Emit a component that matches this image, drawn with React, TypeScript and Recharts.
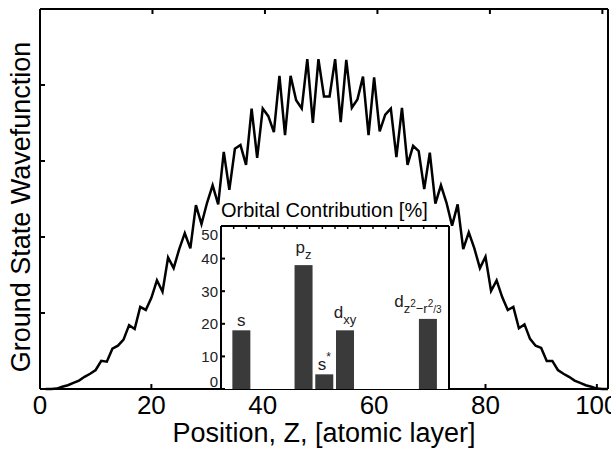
import React from "react";
import {
  LineChart,
  Line,
  XAxis,
  YAxis,
  BarChart,
  Bar,
  CartesianGrid,
  Label,
} from "recharts";

// ground state wavefunction, one value per atomic layer (layer 1..102)
const waveValues = [
  0, 0, 0.005, 0.03, 0.05, 0.08, 0.11, 0.16, 0.2, 0.25,
  0.37, 0.36, 0.53, 0.57, 0.65, 0.84, 0.79, 1.08, 1.04, 1.2,
  1.43, 1.28, 1.73, 1.59, 1.84, 2.05, 1.85, 2.42, 2.17, 2.45,
  2.68, 2.43, 3.12, 2.62, 3.16, 3.21, 2.95, 3.69, 3.04, 3.69,
  3.59, 3.38, 4.12, 3.34, 4.12, 3.8, 3.69, 4.34, 3.5, 4.34,
  3.85, 3.85, 4.34, 3.51, 4.33, 3.7, 3.81, 4.11, 3.34, 4.1,
  3.39, 3.61, 3.69, 3.05, 3.7, 2.95, 3.2, 3.13, 2.63, 3.11,
  2.44, 2.68, 2.45, 2.15, 2.43, 1.84, 2.06, 1.85, 1.59, 1.74,
  1.29, 1.43, 1.21, 1.04, 1.08, 0.8, 0.85, 0.66, 0.57, 0.54,
  0.37, 0.37, 0.25, 0.2, 0.16, 0.11, 0.08, 0.05, 0.03, 0.005,
  0, 0,
];

const xTicks = [0, 20, 40, 60, 80, 100];
const yTicks = [0, 1, 2, 3, 4, 5];

// inset: orbital contributions in percent
const orbitals = ["s", "px", "py", "pz", "s*", "dxy", "dyz", "dzx", "dx2-y2", "dz2-r2/3"];
const contribution = [18, 0, 0, 38, 4.5, 18, 0, 0, 0, 21.5];
// label pieces: [text, level]
const orbitalLabels: [string, string][][] = [
  [["s", "b"]],
  [["p", "b"], ["x", "sub"]],
  [["p", "b"], ["y", "sub"]],
  [["p", "b"], ["z", "sub"]],
  [["s", "b"], ["*", "sup"]],
  [["d", "b"], ["xy", "sub"]],
  [["d", "b"], ["yz", "sub"]],
  [["d", "b"], ["zx", "sub"]],
  [["d", "b"], ["x", "sub"], ["2", "subsup"], ["\u2212y", "sub"], ["2", "subsup"]],
  [["d", "b"], ["z", "sub"], ["2", "subsup"], ["\u2212r", "sub"], ["2", "subsup"], ["/3", "subsub"]],
];
const insetYTicks = [0, 10, 20, 30, 40, 50];
const insetXTicks = [
  0, 0.5, 1, 1.5, 2, 2.5, 3, 3.5, 4, 4.5, 5, 5.5, 6, 6.5, 7, 7.5, 8, 8.5, 9, 9.5, 10, 10.5, 11,
];

const FONT = "'Liberation Sans', Arial, Helvetica, sans-serif";

const waveData = waveValues.map((v, i) => ({ z: i + 1, v }));
const barData = orbitals.map((name, i) => ({
  name,
  pos: i + 1,
  value: contribution[i],
  parts: orbitalLabels[i],
}));

const levels: Record<string, { dy: number; size: number }> = {
  b: { dy: 0, size: 17 },
  sub: { dy: 6, size: 13 },
  sup: { dy: -9, size: 12 },
  subsup: { dy: 0, size: 10 },
  subsub: { dy: 6, size: 10 },
};

function OrbitalBar(props: any) {
  const { x, y, width, height, fill, payload } = props;
  if (!payload || payload.value <= 0) return <g />;
  const hasSub = payload.parts.some((p: [string, string]) => p[1] !== "b" && p[1] !== "sup");
  const baseY = y - (hasSub ? 12 : 4);
  const shift = payload.parts.length > 3 ? -10 : 0;
  let prev = 0;
  return (
    <g>
      <rect x={x} y={y} width={width} height={height} fill={fill} />
      <text x={x + width / 2 + shift} y={baseY} textAnchor="middle" fill="#222" fontFamily={FONT}>
        {payload.parts.map((p: [string, string], i: number) => {
          const lv = levels[p[1]];
          const d = lv.dy - prev;
          prev = lv.dy;
          return (
            <tspan key={i} dy={d} fontSize={lv.size}>
              {p[0]}
            </tspan>
          );
        })}
      </text>
    </g>
  );
}

// inward tick marks, MATLAB style. With tickSize=0 and tickMargin=0, x/y is the axis point itself.
function BottomTick(props: any) {
  const { x, y, payload, len = 5, showLabel = false, size = 26 } = props;
  return (
    <g>
      <line x1={x} y1={y} x2={x} y2={y - len} stroke="#000" strokeWidth={2} />
      {showLabel && (
        <text x={x} y={y + 25} textAnchor="middle" fontSize={size} fill="#000" fontFamily={FONT}>
          {payload.value}
        </text>
      )}
    </g>
  );
}

function TopTick(props: any) {
  const { x, y, len = 5, sw = 2 } = props;
  return <line x1={x} y1={y} x2={x} y2={y + len} stroke="#000" strokeWidth={sw} />;
}

function LeftTick(props: any) {
  const { x, y, len = 5 } = props;
  return <line x1={x} y1={y} x2={x + len} y2={y} stroke="#000" strokeWidth={2} />;
}

function RightTick(props: any) {
  const { x, y, len = 5 } = props;
  return <line x1={x} y1={y} x2={x - len} y2={y} stroke="#000" strokeWidth={2} />;
}

function InsetBottomTick(props: any) {
  const { x, y } = props;
  return <line x1={x} y1={y} x2={x} y2={y - 3} stroke="#000" strokeWidth={1.5} />;
}

function InsetLeftTick(props: any) {
  const { x, y, payload } = props;
  // end labels sit inside the box like in the original
  const first = insetYTicks[0];
  const last = insetYTicks[insetYTicks.length - 1];
  const nudge = payload.value === first ? -8 : payload.value === last ? 8 : 0;
  return (
    <g>
      <line x1={x} y1={y} x2={x + 4} y2={y} stroke="#000" strokeWidth={2} />
      <text x={x - 3} y={y + nudge} textAnchor="end" dominantBaseline="central" fontSize={15} fill="#222" fontFamily={FONT}>
        {payload.value}
      </text>
    </g>
  );
}

const axisLine = { stroke: "#000", strokeWidth: 2 };

export default function App() {
  return (
    <div
      style={{
        position: "absolute",
        left: 0,
        top: 0,
        width: 611,
        height: 450,
        background: "#fff",
        fontFamily: FONT,
        overflow: "hidden",
      }}
    >
      <div style={{ position: "absolute", left: 0, top: 0 }}>
        <LineChart width={611} height={450} data={waveData} margin={{ top: 8, right: 2, bottom: 0, left: 0 }}>
          <XAxis
            xAxisId="b"
            dataKey="z"
            type="number"
            domain={[0, 102]}
            ticks={xTicks}
            interval={0}
            allowDataOverflow
            height={61}
            axisLine={axisLine}
            tickLine={false}
            tickSize={0}
            tickMargin={0}
            tick={<BottomTick showLabel />}
          >
            <Label
              content={(p: any) => {
                const vb = p.viewBox || { x: 40, y: 389, width: 568 };
                return (
                  <text x={vb.x + vb.width / 2} y={vb.y + 53} textAnchor="middle" fontSize={27} fill="#000" fontFamily={FONT}>
                    Position, Z, [atomic layer]
                  </text>
                );
              }}
            />
          </XAxis>
          <XAxis
            xAxisId="t"
            orientation="top"
            type="number"
            domain={[0, 102]}
            ticks={xTicks}
            interval={0}
            allowDataOverflow
            height={1}
            axisLine={axisLine}
            tickLine={false}
            tickSize={0}
            tickMargin={0}
            tick={<TopTick />}
          />
          <YAxis
            yAxisId="l"
            type="number"
            domain={[0, 5]}
            ticks={yTicks}
            interval={0}
            width={40}
            axisLine={axisLine}
            tickLine={false}
            tickSize={0}
            tickMargin={0}
            tick={<LeftTick />}
          >
            <Label
              content={(p: any) => {
                const vb = p.viewBox || { x: 0, y: 9, width: 40, height: 380 };
                const cx = vb.x + vb.width / 2 + 1;
                const cy = vb.y + vb.height / 2 + 8;
                return (
                  <text
                    x={cx}
                    y={cy}
                    transform={`rotate(-90, ${cx}, ${cy})`}
                    textAnchor="middle"
                    dominantBaseline="central"
                    fontSize={27}
                    fill="#000"
                    fontFamily={FONT}
                  >
                    Ground State Wavefunction
                  </text>
                );
              }}
            />
          </YAxis>
          <YAxis
            yAxisId="r"
            orientation="right"
            type="number"
            domain={[0, 5]}
            ticks={yTicks}
            interval={0}
            width={1}
            axisLine={axisLine}
            tickLine={false}
            tickSize={0}
            tickMargin={0}
            tick={<RightTick />}
          />
          <Line
            xAxisId="b"
            yAxisId="l"
            type="linear"
            dataKey="v"
            stroke="#000"
            strokeWidth={2.5}
            dot={false}
            isAnimationActive={false}
          />
        </LineChart>
      </div>

      <div style={{ position: "absolute", left: 180, top: 200 }}>
        <BarChart width={280} height={200} data={barData} margin={{ top: 25, right: 10, bottom: 11, left: 0 }}>
          <CartesianGrid horizontal={false} vertical={false} fill="#fff" fillOpacity={1} xAxisId="b" yAxisId="l" />
          <XAxis
            xAxisId="b"
            dataKey="pos"
            type="number"
            domain={[0, 11]}
            ticks={insetXTicks}
            interval={0}
            height={0}
            axisLine={axisLine}
            tickLine={false}
            tickSize={0}
            tickMargin={0}
            tick={<InsetBottomTick />}
          />
          <XAxis
            xAxisId="t"
            orientation="top"
            type="number"
            domain={[0, 11]}
            ticks={insetXTicks}
            interval={0}
            height={1}
            axisLine={axisLine}
            tickLine={false}
            tickSize={0}
            tickMargin={0}
            tick={<TopTick len={3} sw={1.5} />}
          >
            <Label
              content={(p: any) => {
                const vb = p.viewBox || { x: 41, y: 25, height: 1 };
                return (
                  <text x={vb.x} y={vb.y + vb.height - 9} fontSize={20} fill="#000" fontFamily={FONT}>
                    Orbital Contribution [%]
                  </text>
                );
              }}
            />
          </XAxis>
          <YAxis
            yAxisId="l"
            type="number"
            domain={[0, 50]}
            ticks={insetYTicks}
            interval={0}
            width={41}
            axisLine={axisLine}
            tickLine={false}
            tickSize={0}
            tickMargin={0}
            tick={<InsetLeftTick />}
          />
          <YAxis
            yAxisId="r"
            orientation="right"
            type="number"
            domain={[0, 50]}
            ticks={insetYTicks}
            interval={0}
            width={1}
            axisLine={axisLine}
            tickLine={false}
            tickSize={0}
            tickMargin={0}
            tick={<RightTick len={4} />}
          />
          <Bar
            xAxisId="b"
            yAxisId="l"
            dataKey="value"
            fill="#3a3a3a"
            barSize={18}
            shape={<OrbitalBar />}
            isAnimationActive={false}
          />
        </BarChart>
      </div>
    </div>
  );
}
